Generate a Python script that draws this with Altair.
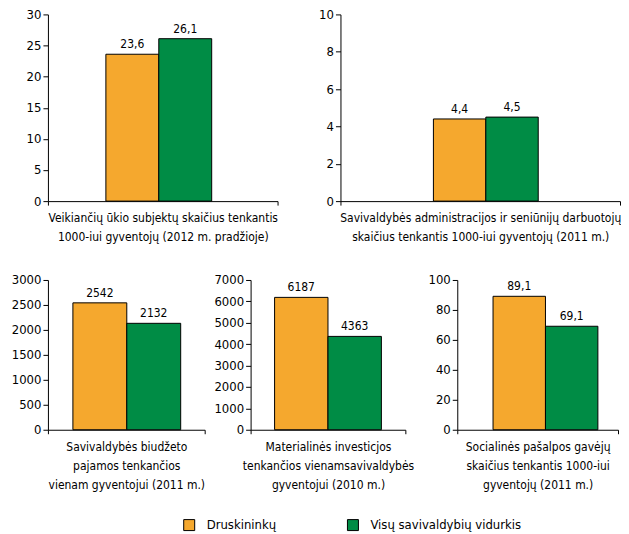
import altair as alt
import pandas as pd

FONT = "Liberation Sans Narrow, DejaVu Sans Condensed, Roboto Condensed, Arial Narrow, sans-serif"

series = ["Druskininkų", "Visų savivaldybių vidurkis"]
colors = ["#F5A82E", "#008C45"]

captions = [
    ["Veikiančių ūkio subjektų skaičius tenkantis", "1000-iui gyventojų (2012 m. pradžioje)"],
    ["Savivaldybės administracijos ir seniūnijų darbuotojų", "skaičius tenkantis 1000-iui gyventojų (2011 m.)"],
    ["Savivaldybės biudžeto", "pajamos tenkančios", "vienam gyventojui (2011 m.)"],
    ["Materialinės investicjos", "tenkančios vienamsavivaldybės", "gyventojui (2010 m.)"],
    ["Socialinės pašalpos gavėjų", "skaičius tenkantis 1000-iui", "gyventojų (2011 m.)"],
]
druskininku = [23.6, 4.4, 2542, 6187, 89.1]
vidurkis = [26.1, 4.5, 2132, 4363, 69.1]
labels_d = ["23,6", "4,4", "2542", "6187", "89,1"]
labels_v = ["26,1", "4,5", "2132", "4363", "69,1"]
y_max = [30, 10, 3000, 7000, 100]
y_step = [5, 2, 500, 1000, 20]


def panel(i, width, height, pad_outer, band_align, min_ext, spacer=False):
    df = pd.DataFrame({
        "grp": ["g", "g"],
        "series": series,
        "value": [druskininku[i], vidurkis[i]],
        "label": [labels_d[i], labels_v[i]],
    })
    off_domain = (["_l"] + series + ["_r"]) if spacer else series
    base = alt.Chart(df).encode(
        x=alt.X("grp:N", title=captions[i],
                scale=alt.Scale(paddingInner=0, paddingOuter=0),
                axis=alt.Axis(labels=False, ticks=True, tickBand="extent", tickSize=4,
                              domainColor="black", tickColor="black",
                              titleFont=FONT, titleFontSize=12, titleFontWeight="normal",
                              titleColor="black", titleLineHeight=19, titlePadding=7)),
        xOffset=alt.XOffset("series:N",
                            scale=alt.Scale(domain=off_domain, paddingInner=0,
                                            paddingOuter=pad_outer, align=band_align)),
        y=alt.Y("value:Q", title=None,
                scale=alt.Scale(domain=[0, y_max[i]], nice=False, zero=True),
                axis=alt.Axis(values=list(range(0, y_max[i] + 1, y_step[i])), format="d",
                              grid=False, tickSize=5, labelPadding=2, minExtent=min_ext,
                              domainColor="black", tickColor="black",
                              labelFont=FONT, labelFontSize=13, labelColor="black")),
    )
    bars = base.mark_bar(stroke="black", strokeWidth=1).encode(
        color=alt.Color("series:N", sort=series,
                        scale=alt.Scale(domain=series, range=colors),
                        legend=alt.Legend(title=None, orient="none", direction="horizontal",
                                          legendX=135, legendY=505,
                                          symbolType="square", symbolSize=121,
                                          symbolStrokeColor="black", symbolStrokeWidth=1,
                                          labelFont=FONT, labelFontSize=13, labelColor="black",
                                          labelLimit=400, labelOffset=11, columnPadding=69))
    )
    text = base.mark_text(baseline="bottom", dy=-3, font=FONT, fontSize=12, color="black").encode(
        text="label:N"
    )
    return alt.layer(bars, text).properties(width=width, height=height)


indep = dict(x="independent", y="independent", xOffset="independent")

top = alt.hconcat(
    panel(0, 230, 187, 0.17, 0.28, 32, spacer=True),
    panel(1, 280, 187, 0.667, 0.58, 24, spacer=True),
    spacing=38,
).resolve_scale(**indep)
bottom = alt.hconcat(
    panel(2, 157, 150, 0.454, 0.51, 40),
    panel(3, 155, 150, 0.449, 0.5, 40),
    panel(4, 161, 150, 0.533, 0.64, 38),
    spacing=5,
).resolve_scale(**indep)

chart = alt.vconcat(top, bottom, spacing=31).resolve_scale(
    **indep
).properties(padding=0).configure_view(stroke=None)

chart.save("out.html", embed_options={"renderer": "svg", "actions": False})
